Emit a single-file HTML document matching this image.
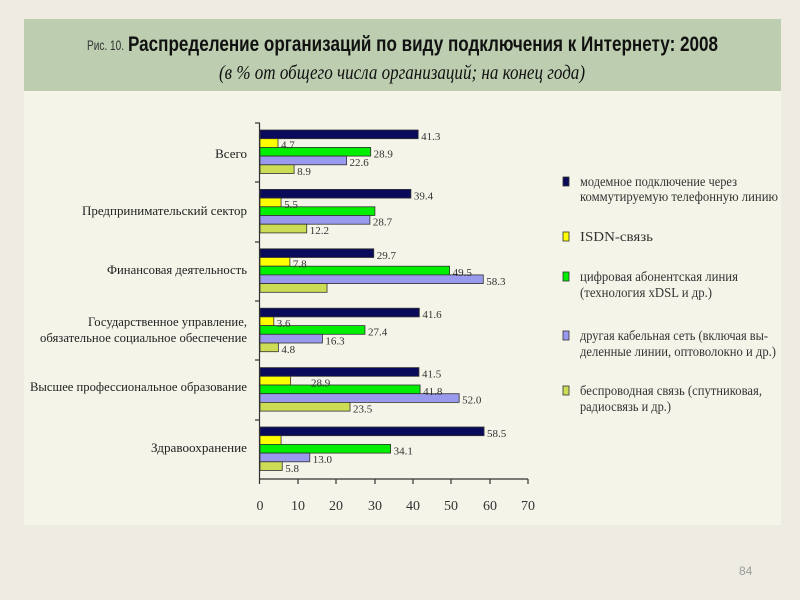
<!DOCTYPE html>
<html><head><meta charset="utf-8"><style>
html,body{margin:0;padding:0;background:#eeece2;}
svg{display:block}
</style></head><body>
<svg width="800" height="600" viewBox="0 0 800 600" xmlns="http://www.w3.org/2000/svg">
<rect x="0" y="0" width="800" height="600" fill="#eeece2"/>
<rect x="24" y="19" width="757" height="506" fill="#f4f4e9"/>
<rect x="24" y="19" width="757" height="72" fill="#bccdb0"/>
<g font-family="Liberation Sans, sans-serif" fill="#111">
<text x="87" y="50" font-size="14" textLength="37" lengthAdjust="spacingAndGlyphs" fill="#333">Рис. 10.</text>
<text x="128" y="51" font-size="21" font-weight="bold" textLength="590" lengthAdjust="spacingAndGlyphs">Распределение организаций по виду подключения к Интернету: 2008</text>
<text x="219" y="79" font-size="20" font-style="italic" font-family="Liberation Serif, serif" textLength="366" lengthAdjust="spacingAndGlyphs">(в % от общего числа организаций; на конец года)</text>
</g>
<g font-family="Liberation Serif, serif" font-size="13" fill="#222" text-anchor="end">
<text x="247" y="158">Всего</text>
<text x="247" y="215" textLength="165" lengthAdjust="spacingAndGlyphs">Предпринимательский сектор</text>
<text x="247" y="274" textLength="140" lengthAdjust="spacingAndGlyphs">Финансовая деятельность</text>
<text x="247" y="326" textLength="159" lengthAdjust="spacingAndGlyphs">Государственное управление,</text>
<text x="247" y="342" textLength="207" lengthAdjust="spacingAndGlyphs">обязательное социальное обеспечение</text>
<text x="247" y="391" textLength="217" lengthAdjust="spacingAndGlyphs">Высшее профессиональное образование</text>
<text x="247" y="452" textLength="96" lengthAdjust="spacingAndGlyphs">Здравоохранение</text>
</g>
<g stroke="#333" stroke-width="1.2">
<line x1="259.5" y1="123" x2="259.5" y2="479"/>
<line x1="259.5" y1="479" x2="528" y2="479"/>
<line x1="255" y1="123" x2="260" y2="123"/><line x1="255" y1="182" x2="260" y2="182"/><line x1="255" y1="242" x2="260" y2="242"/><line x1="255" y1="301" x2="260" y2="301"/><line x1="255" y1="360" x2="260" y2="360"/><line x1="255" y1="420" x2="260" y2="420"/>
<line x1="259.5" y1="479" x2="259.5" y2="484"/><line x1="298" y1="479" x2="298" y2="484"/><line x1="336" y1="479" x2="336" y2="484"/><line x1="375" y1="479" x2="375" y2="484"/><line x1="413" y1="479" x2="413" y2="484"/><line x1="451" y1="479" x2="451" y2="484"/><line x1="490" y1="479" x2="490" y2="484"/><line x1="528" y1="479" x2="528" y2="484"/>
</g>
<g font-family="Liberation Serif, serif" font-size="14" fill="#333" text-anchor="middle">
<text x="260" y="510">0</text><text x="298" y="510">10</text><text x="336" y="510">20</text><text x="375" y="510">30</text><text x="413" y="510">40</text><text x="451" y="510">50</text><text x="490" y="510">60</text><text x="528" y="510">70</text>
</g>
<g id="bars" stroke="#333" stroke-width="0.8"></g>
<g id="labs" font-family="Liberation Serif, serif" font-size="11" fill="#333"></g>
<script>
var data=[[41.3,4.7,28.9,22.6,8.9],[39.4,5.5,30,28.7,12.2],[29.7,7.8,49.5,58.3,17.5],[41.6,3.6,27.4,16.3,4.8],[41.5,8.0,41.8,52.0,23.5],[58.5,5.5,34.1,13.0,5.8]];
var labs=[["41.3","4.7","28.9","22.6","8.9"],["39.4","5.5","","28.7","12.2"],["29.7","7.8","49.5","58.3",""],["41.6","3.6","27.4","16.3","4.8"],["41.5","28.9","41.8","52.0","23.5"],["58.5","","34.1","13.0","5.8"]];
var cols=["#0a0a5a","#ffff00","#00ee00","#9999ee","#ccdd55"];
var b=document.getElementById("bars"),l=document.getElementById("labs"),ns="http://www.w3.org/2000/svg";
for(var g=0;g<6;g++)for(var i=0;i<5;i++){var y=123+g*59.4+7+i*8.7,w=data[g][i]*3.83;
var r=document.createElementNS(ns,"rect");r.setAttribute("x",260);r.setAttribute("y",y);r.setAttribute("width",w);r.setAttribute("height",8.7);r.setAttribute("fill",cols[i]);b.appendChild(r);
if(labs[g][i]){var t=document.createElementNS(ns,"text");var lx=260+w+3;if(g==4&&i==1)lx=311;t.setAttribute("x",lx);t.setAttribute("y",y+10);t.textContent=labs[g][i];l.appendChild(t);}}
</script>
<g stroke="#333" stroke-width="0.8">
<rect x="563" y="177" width="6" height="9" fill="#0a0a5a"/>
<rect x="563" y="232" width="6" height="9" fill="#ffff00"/>
<rect x="563" y="272" width="6" height="9" fill="#00ee00"/>
<rect x="563" y="331" width="6" height="9" fill="#9999ee"/>
<rect x="563" y="386" width="6" height="9" fill="#ccdd55"/>
</g>
<g font-family="Liberation Serif, serif" font-size="14" fill="#333">
<text x="580" y="186" textLength="157" lengthAdjust="spacingAndGlyphs">модемное подключение через</text>
<text x="580" y="201" textLength="198" lengthAdjust="spacingAndGlyphs">коммутируемую телефонную линию</text>
<text x="580" y="241" textLength="73" lengthAdjust="spacingAndGlyphs">ISDN-связь</text>
<text x="580" y="281" textLength="158" lengthAdjust="spacingAndGlyphs">цифровая абонентская линия</text>
<text x="580" y="297" textLength="132" lengthAdjust="spacingAndGlyphs">(технология xDSL  и др.)</text>
<text x="580" y="340" textLength="188" lengthAdjust="spacingAndGlyphs">другая кабельная сеть (включая вы-</text>
<text x="580" y="356" textLength="196" lengthAdjust="spacingAndGlyphs">деленные линии, оптоволокно и др.)</text>
<text x="580" y="395" textLength="182" lengthAdjust="spacingAndGlyphs">беспроводная связь (спутниковая,</text>
<text x="580" y="411" textLength="91" lengthAdjust="spacingAndGlyphs">радиосвязь и др.)</text>
</g>
<text x="739" y="575" font-family="Liberation Sans, sans-serif" font-size="12" fill="#999">84</text>
</svg>
</body></html>
